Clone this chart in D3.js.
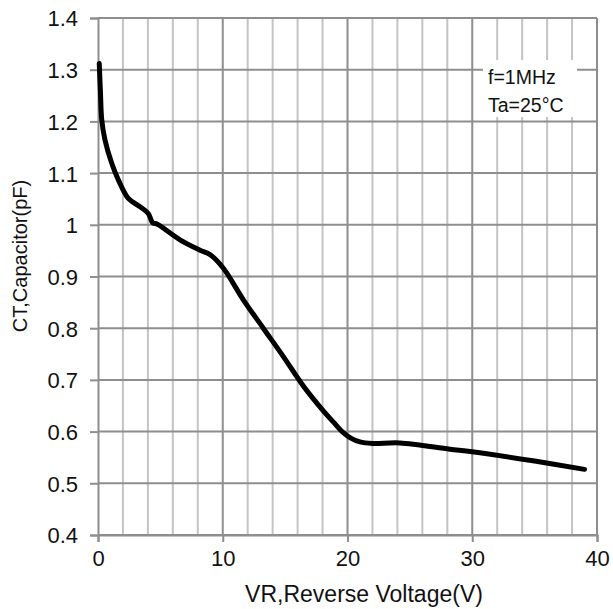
<!DOCTYPE html>
<html>
<head>
<meta charset="utf-8">
<script src="https://cdn.jsdelivr.net/npm/d3@7"></script>
<style>
  html, body { margin: 0; padding: 0; background: #fff; }
  svg text { font-family: "Liberation Sans", Arial, sans-serif; fill: #111; }
</style>
</head>
<body>
<div id="chart"></div>
<script>
// reverse voltage (V) and capacitance (pF)
const voltage = [0.1, 0.2, 0.3, 0.56, 1.1, 1.63, 2.43, 3.37, 4.03, 4.38, 4.76, 6.57, 8.18, 9.0, 10.05,
                 11.65, 13.25, 14.86, 16.46, 18.06, 19.0, 19.66, 20.3, 21.0, 22.0, 24.2, 28.2, 30, 35, 39];
const capacitance = [1.312, 1.254, 1.203, 1.164, 1.119, 1.087, 1.051, 1.035, 1.022, 1.004, 1.001, 0.971, 0.951, 0.942, 0.916,
                     0.855, 0.800, 0.745, 0.688, 0.640, 0.615, 0.598, 0.587, 0.580, 0.577, 0.578, 0.566, 0.561, 0.543, 0.527];

const xTicks = [0, 10, 20, 30, 40];
const xMinorGrid = [2, 4, 6, 8, 12, 14, 16, 18, 22, 24, 26, 28, 32, 34, 36, 38];
const yTicks = [0.4, 0.5, 0.6, 0.7, 0.8, 0.9, 1, 1.1, 1.2, 1.3, 1.4];
const notes = ["f=1MHz", "Ta=25°C"];

const width = 613, height = 609;
const margin = { top: 18, right: 16, bottom: 74, left: 98 };

const svg = d3.select('#chart')
    .append('svg')
    .attr('width', width)
    .attr('height', height);

const x = d3.scaleLinear().domain([0, 40]).range([margin.left, width - margin.right]);
const y = d3.scaleLinear().domain([0.4, 1.4]).range([height - margin.bottom, margin.top]);

// minor vertical grid (every 2 V)
svg.append('g')
    .selectAll('line')
    .data(xMinorGrid)
    .enter()
    .append('line')
    .attr('x1', d => x(d)).attr('x2', d => x(d))
    .attr('y1', y(0.4)).attr('y2', y(1.4))
    .attr('stroke', '#c4c4c4')
    .attr('stroke-width', 2);

// major vertical grid
svg.append('g')
    .selectAll('line')
    .data(xTicks.slice(1, -1))
    .enter()
    .append('line')
    .attr('x1', d => x(d)).attr('x2', d => x(d))
    .attr('y1', y(0.4)).attr('y2', y(1.4))
    .attr('stroke', '#8e8e8e')
    .attr('stroke-width', 2);

// horizontal grid
svg.append('g')
    .selectAll('line')
    .data(yTicks)
    .enter()
    .append('line')
    .attr('x1', x(0)).attr('x2', x(40))
    .attr('y1', d => y(d)).attr('y2', d => y(d))
    .attr('stroke', '#8e8e8e')
    .attr('stroke-width', 2);

// right border
svg.append('line')
    .attr('x1', x(40)).attr('x2', x(40))
    .attr('y1', y(0.4)).attr('y2', y(1.4))
    .attr('stroke', '#8e8e8e')
    .attr('stroke-width', 2);

// axes
const xAxis = d3.axisBottom(x).tickValues(xTicks).tickSize(7).tickPadding(8).tickFormat(d3.format('d'));
const yAxis = d3.axisLeft(y).tickValues(yTicks).tickSize(8).tickPadding(12).tickFormat(d => d3.format('')(d));

const gx = svg.append('g')
    .attr('transform', `translate(0, ${y(0.4)})`)
    .call(xAxis);
const gy = svg.append('g')
    .attr('transform', `translate(${x(0)}, 0)`)
    .call(yAxis);

[gx, gy].forEach(g => {
    g.select('.domain').attr('stroke', '#8e8e8e').attr('stroke-width', 2);
    g.selectAll('.tick line').attr('stroke', '#8e8e8e').attr('stroke-width', 2);
    g.selectAll('.tick text').attr('font-size', 22).attr('fill', '#111')
        .attr('font-family', '"Liberation Sans", Arial, sans-serif');
});
gy.selectAll('.tick text').attr('dy', '0.36em');

// annotation box
svg.append('rect')
    .attr('x', 483).attr('y', 60)
    .attr('width', 94).attr('height', 57)
    .attr('fill', '#fff');

svg.append('g')
    .selectAll('text')
    .data(notes)
    .enter()
    .append('text')
    .attr('x', 488)
    .attr('y', (d, i) => 84 + i * 27.5)
    .attr('font-size', 19.5)
    .text(d => d);

// curve
const line = d3.line()
    .x((d, i) => x(voltage[i]))
    .y(d => y(d))
    .curve(d3.curveCatmullRom.alpha(0.5));

svg.append('path')
    .datum(capacitance)
    .attr('d', line)
    .attr('fill', 'none')
    .attr('stroke', '#000')
    .attr('stroke-width', 5)
    .attr('stroke-linejoin', 'round')
    .attr('stroke-linecap', 'round');

// axis titles
svg.append('text')
    .attr('x', 364)
    .attr('y', 602)
    .attr('text-anchor', 'middle')
    .attr('font-size', 23)
    .text('VR,Reverse Voltage(V)');

svg.append('text')
    .attr('transform', 'translate(27, 256) rotate(-90)')
    .attr('text-anchor', 'middle')
    .attr('font-size', 20)
    .text('CT,Capacitor(pF)');
</script>
</body>
</html>
